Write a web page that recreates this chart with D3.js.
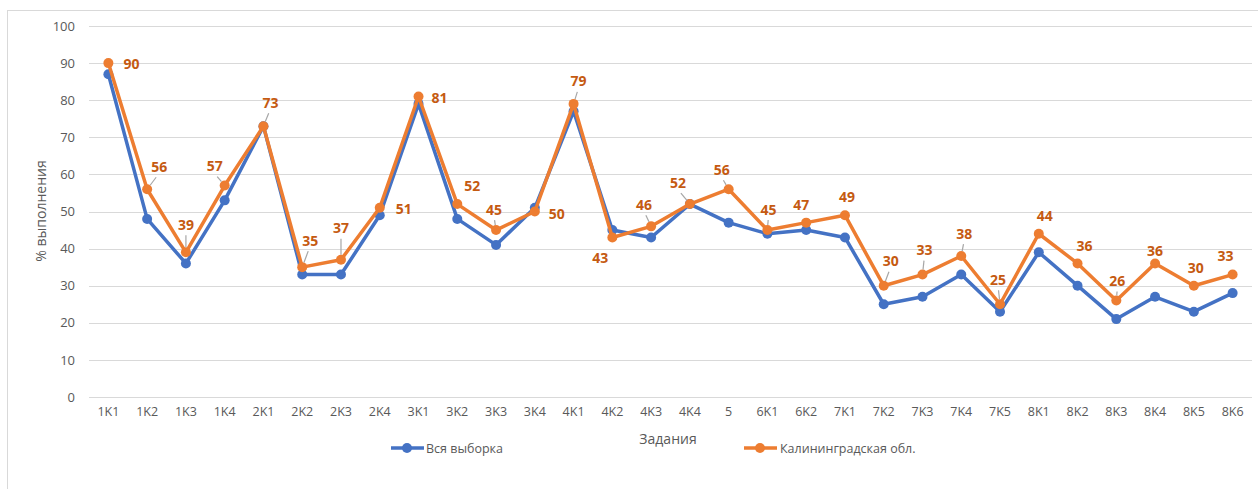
<!DOCTYPE html>
<html><head><meta charset="utf-8">
<script src="https://cdn.jsdelivr.net/npm/d3@7"></script>
<style>body{margin:0;background:#fff;}svg{display:block;font-family:"Open Sans","Liberation Sans",sans-serif;}</style>
</head><body>
<svg id="c" width="1258" height="489"></svg>
<script>
const categories = ["1K1","1K2","1K3","1K4","2K1","2K2","2K3","2K4","3K1","3K2","3K3","3K4","4K1","4K2","4K3","4K4","5","6K1","6K2","7K1","7K2","7K3","7K4","7K5","8K1","8K2","8K3","8K4","8K5","8K6"];
const allSample = [87,48,36,53,73,33,33,49,79,48,41,51,77,45,43,52,47,44,45,43,25,27,33,23,39,30,21,27,23,28];
const kaliningrad = [90,56,39,57,73,35,37,51,81,52,45,50,79,43,46,52,56,45,47,49,30,33,38,25,44,36,26,36,30,33];
const yTicks = [0,10,20,30,40,50,60,70,80,90,100];
const seriesNames = ["Вся выборка","Калининградская обл."];
// label placement (pixel offsets from point) and leader flags
const labelOffsets = [[23,0],[12,-23],[0,-28],[-10,-20],[7,-24],[8,-27],[0,-32],[24,1],[21,1],[15,-19],[-2,-21],[22,2],[5,-23],[-12,20],[-7,-22],[-12,-22],[-7,-20],[1,-21],[-5,-18],[2,-19],[7,-25],[2,-25],[3,-23],[-2,-25],[6,-18],[7,-18],[1,-20],[0,-13],[2,-18],[-7,-19]];
const leaders = [0,1,1,1,1,1,1,0,0,0,1,0,1,0,1,1,1,1,0,0,1,1,1,1,0,0,1,0,0,0];

const svg = d3.select("#c");
const m = {l:89, r:1252, t:26, b:397};
const x = d3.scaleBand().domain(categories).range([m.l, m.r]);
const y = d3.scaleLinear().domain([0,100]).range([m.b, m.t]);
const cx = d => x(d) + x.bandwidth()/2;

// outer border
svg.append("rect").attr("x",7.5).attr("y",10.5).attr("width",1260).attr("height",490)
  .attr("fill","none").attr("stroke","#d9d9d9").attr("stroke-width",1);

// grid
svg.append("g").selectAll("line").data(yTicks).join("line")
  .attr("x1",m.l).attr("x2",m.r).attr("y1",d=>Math.round(y(d))+0.5).attr("y2",d=>Math.round(y(d))+0.5)
  .attr("stroke","#d9d9d9").attr("stroke-width",1);

// y axis labels
const yAxis = d3.axisLeft(y).tickValues(yTicks).tickSize(0).tickPadding(14);
const gy = svg.append("g").attr("transform",`translate(${m.l},0)`).call(yAxis);
gy.select(".domain").remove();
gy.selectAll("text").attr("font-size",13).attr("fill","#595959").attr("font-family","'Open Sans',sans-serif");

// x axis labels
const xAxis = d3.axisBottom(x).tickSize(0).tickPadding(10);
const gx = svg.append("g").attr("transform",`translate(0,${m.b})`).call(xAxis);
gx.select(".domain").remove();
gx.selectAll("text").attr("font-size",12.5).attr("fill","#595959").attr("font-family","'Open Sans',sans-serif");

// axis titles
svg.append("text").attr("transform","translate(46,211) rotate(-90)").attr("text-anchor","middle")
  .attr("font-size",14).attr("fill","#595959").text("% выполнения");
svg.append("text").attr("x",668).attr("y",444).attr("text-anchor","middle")
  .attr("font-size",14).attr("fill","#595959").text("Задания");

const colors = ["#4472C4","#ED7D31"];
const line = d3.line().x((d,i)=>cx(categories[i])).y(d=>y(d));
[allSample, kaliningrad].forEach((s,k)=>{
  svg.append("path").datum(s).attr("d",line).attr("fill","none").attr("stroke",colors[k])
    .attr("stroke-width",3.5).attr("stroke-linejoin","round");
  svg.append("g").selectAll("circle").data(s).join("circle")
    .attr("cx",(d,i)=>cx(categories[i])).attr("cy",d=>y(d)).attr("r",5).attr("fill",colors[k]);
});

// leader lines and labels for Kaliningrad
const lg = svg.append("g");
kaliningrad.forEach((v,i)=>{
  const px = cx(categories[i]), py = y(v);
  const [dx,dy] = labelOffsets[i];
  const lx = px+dx, ly = py+dy;
  if (leaders[i]) {
    const ex = lx + (px-lx)*0.25, ey = ly + (dy<0 ? 11 : -11);
    const len = Math.hypot(ex-px, ey-py);
    const sx = px + (ex-px)/len*5, sy = py + (ey-py)/len*5;
    lg.append("line").attr("x1",sx).attr("y1",sy).attr("x2",ex).attr("y2",ey)
      .attr("stroke","#a6a6a6").attr("stroke-width",1.2);
  }
  lg.append("text").attr("x",lx).attr("y",ly).attr("text-anchor","middle").attr("dominant-baseline","central")
    .attr("font-size",14).attr("font-weight","bold").attr("fill","#C55A11").text(v);
});

// legend
const legend = [[391,426],[744,780]];
legend.forEach(([lx,tx],k)=>{
  svg.append("line").attr("x1",lx).attr("x2",lx+33).attr("y1",448).attr("y2",448)
    .attr("stroke",colors[k]).attr("stroke-width",3.5);
  svg.append("circle").attr("cx",lx+16).attr("cy",448).attr("r",5).attr("fill",colors[k]);
  svg.append("text").attr("x",tx).attr("y",448).attr("dominant-baseline","central")
    .attr("font-size",12.5).attr("fill","#595959").text(seriesNames[k]);
});
</script>
</body></html>
